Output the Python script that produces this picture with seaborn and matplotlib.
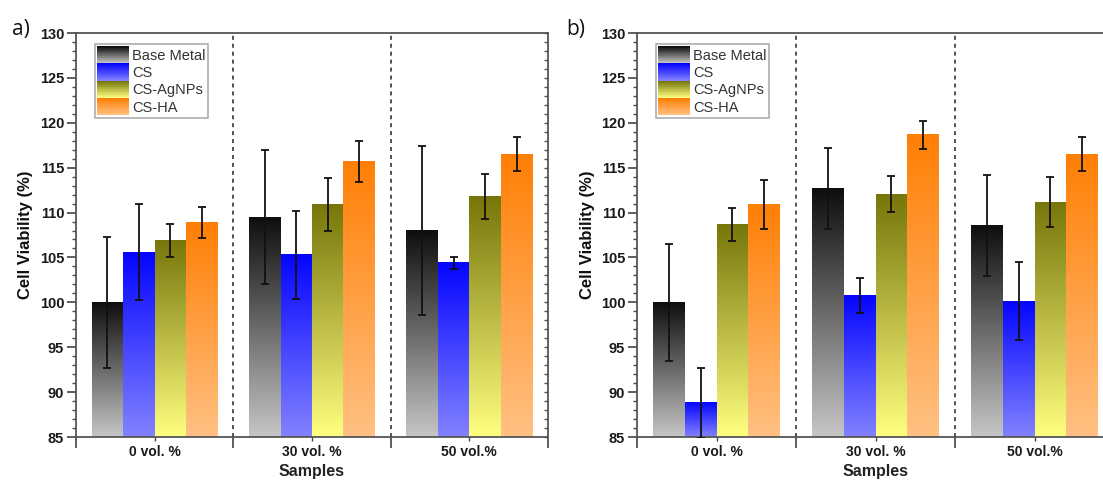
import numpy as np
import pandas as pd
import matplotlib
matplotlib.use("Agg")
import matplotlib.pyplot as plt
import seaborn as sns
from matplotlib.colors import LinearSegmentedColormap
from matplotlib.legend_handler import HandlerBase
from matplotlib.patches import Rectangle
from matplotlib.ticker import MultipleLocator
from matplotlib.font_manager import FontProperties, findfont

# ---------------- data ----------------
samples = ["0 vol. %", "30 vol. %", "50 vol.%"]
series = ["Base Metal", "CS", "CS-AgNPs", "CS-HA"]
yticks = [85, 90, 95, 100, 105, 110, 115, 120, 125, 130]

# panel a
a_base = [100.0, 109.5, 108.0]
a_base_err = [7.3, 7.45, 9.4]
a_cs = [105.6, 105.3, 104.4]
a_cs_err = [5.3, 4.9, 0.7]
a_ag = [106.9, 110.9, 111.75]
a_ag_err = [1.8, 2.95, 2.5]
a_ha = [108.9, 115.65, 116.5]
a_ha_err = [1.7, 2.3, 1.9]

# panel b
b_base = [100.0, 112.7, 108.55]
b_base_err = [6.5, 4.5, 5.65]
b_cs = [88.8, 100.8, 100.1]
b_cs_err = [3.9, 1.95, 4.35]
b_ag = [108.7, 112.05, 111.15]
b_ag_err = [1.85, 2.0, 2.8]
b_ha = [110.9, 118.65, 116.5]
b_ha_err = [2.7, 1.55, 1.9]

# gradient colours (light bottom -> dark top)
grad_colors = {
    "Base Metal": ("#c6c6c6", "#0e0e0e"),
    "CS": ("#8282ff", "#0505ff"),
    "CS-AgNPs": ("#ffff80", "#76760a"),
    "CS-HA": ("#ffc183", "#ff7f05"),
}
cmaps = {k: LinearSegmentedColormap.from_list(k, v) for k, v in grad_colors.items()}


def make_df(vals, errs):
    rows = []
    for s, v, e in zip(series, vals, errs):
        for c, vv, ee in zip(samples, v, e):
            rows.append({"sample": c, "series": s, "value": vv, "err": ee})
    return pd.DataFrame(rows)


df_a = make_df([a_base, a_cs, a_ag, a_ha], [a_base_err, a_cs_err, a_ag_err, a_ha_err])
df_b = make_df([b_base, b_cs, b_ag, b_ha], [b_base_err, b_cs_err, b_ag_err, b_ha_err])

# ---------------- style ----------------
sns.set_style("white")
plt.rcParams["font.family"] = ["Liberation Sans", "DejaVu Sans"]

bold_fp = FontProperties(family="Liberation Sans", weight="bold", size=10.5)
bold_fp_x = FontProperties(family="Liberation Sans", weight="bold", size=10)
leg_fp = FontProperties(family="Liberation Sans", weight="normal", size=10.5)

fig = plt.figure(figsize=(11.03, 4.82), dpi=100)
ax_a = fig.add_axes([76 / 1103, 45 / 482, 472 / 1103, 404 / 482])
ax_b = fig.add_axes([637 / 1103, 45 / 482, 477 / 1103, 404 / 482])


class GradHandler(HandlerBase):
    def __init__(self, cmap):
        super().__init__()
        self.cmap = cmap

    def create_artists(self, legend, orig_handle, xdescent, ydescent, width,
                       height, fontsize, trans):
        n = 24
        arts = []
        for k in range(n):
            col = self.cmap(k / (n - 1))
            r = Rectangle((-xdescent, -ydescent + height * k / n), width,
                          height / n * 1.15, facecolor=col, edgecolor="none",
                          linewidth=0, transform=trans)
            arts.append(r)
        return arts


def draw_panel(ax, df, ylab_x):
    sns.barplot(data=df, x="sample", y="value", hue="series", order=samples,
                hue_order=series, errorbar=None, width=0.8, linewidth=0,
                legend=False, ax=ax)
    ymin, ymax = 85, 130
    lookup = {(r["sample"], r["series"]): (r["value"], r["err"]) for _, r in df.iterrows()}
    for p in list(ax.patches):
        x0 = p.get_x()
        w = p.get_width()
        xc = x0 + w / 2
        ci = int(round(xc))
        hi = int(round((xc - ci + 0.3) / 0.2))
        s = series[hi]
        val, err = lookup[(samples[ci], s)]
        top = p.get_y() + p.get_height()
        grad = np.linspace(1, 0, 256)[:, None]
        ax.imshow(grad, extent=[x0, x0 + w, ymin, top], aspect="auto",
                  cmap=cmaps[s], vmin=0, vmax=1, origin="upper",
                  interpolation="bilinear", zorder=1.5)
        p.set_facecolor("none")
        ax.errorbar(xc, val, yerr=err, fmt="none", ecolor="#111111",
                    elinewidth=1.3, capsize=3.2, capthick=1.3, zorder=4)

    ax.set_xlim(-0.5, 2.5)
    ax.set_ylim(ymin, ymax)
    ax.set_aspect("auto")

    for xb in [0.5, 1.5]:
        ax.axvline(xb, color="#444444", lw=1.3, ls=(0, (2.2, 2.2)), zorder=1)

    # right-side inward ticks on a twin axis
    tw = ax.twinx()
    tw.set_ylim(ymin, ymax)
    tw.set_yticks(yticks, labels=[""] * len(yticks))
    tw.yaxis.set_minor_locator(MultipleLocator(1))
    tw.tick_params(axis="y", which="both", direction="in", length=3,
                   width=1.0, color="#555555", right=True, left=False,
                   labelright=False, labelleft=False)
    for sp in tw.spines.values():
        sp.set_visible(False)

    # y axis
    ax.set_yticks(yticks, labels=[str(v) for v in yticks])
    ax.yaxis.set_minor_locator(MultipleLocator(1))
    ax.tick_params(axis="y", which="major", direction="out", length=6.5,
                   width=1.2, color="#444444", pad=2, left=True, right=False,
                   labelcolor="#1a1a1a")
    ax.tick_params(axis="y", which="minor", direction="out", length=3,
                   width=1.0, color="#444444", left=True, right=False)

    # x axis
    ax.set_xticks([-0.5, 0.5, 1.5, 2.5], labels=["", "", "", ""])
    ax.set_xticks([0, 1, 2], labels=samples, minor=True)
    ax.tick_params(axis="x", which="major", direction="out", length=8,
                   width=1.2, color="#444444", bottom=True)
    ax.tick_params(axis="x", which="minor", direction="out", length=3,
                   width=1.0, color="#444444", pad=3, bottom=True,
                   labelcolor="#1a1a1a")

    for sp in ax.spines.values():
        sp.set_color("#555555")
        sp.set_linewidth(1.3)
        sp.set_visible(True)

    ax.set_ylabel("Cell Viability (%)", fontsize=12, fontweight="bold", color="#111111")
    ax.yaxis.set_label_coords(ylab_x, 0.5)
    ax.set_xlabel("Samples", fontsize=11.5, fontweight="bold", color="#222222")
    ax.xaxis.set_label_coords(0.5, -0.066)

    proxies = [Rectangle((0, 0), 1, 1) for _ in series]
    hmap = {pr: GradHandler(cmaps[s]) for pr, s in zip(proxies, series)}
    leg = tw.legend(proxies, series, handler_map=hmap, loc="upper left",
                    bbox_to_anchor=(19 / ax.get_position().width / 1103, 1 - 11 / 404),
                    borderaxespad=0, frameon=True, fancybox=False,
                    edgecolor="#9a9a9a", prop=leg_fp, labelspacing=0,
                    handlelength=2.2, handleheight=1.45, handletextpad=0.2,
                    borderpad=0.15, labelcolor="#333333")
    leg.get_frame().set_linewidth(1.2)
    leg.set_zorder(6)


draw_panel(ax_a, df_a, -0.091)
draw_panel(ax_b, df_b, -0.088)

fig.text(12 / 1103, 1 - 35 / 482, "a)", fontsize=15, color="#111111",
         family=["Open Sans", "DejaVu Sans"])
fig.text(566 / 1103, 1 - 35 / 482, "b)", fontsize=15, color="#111111",
         family=["Open Sans", "DejaVu Sans"])

fig.canvas.draw()
for ax in (ax_a, ax_b):
    for t in ax.yaxis.get_majorticklabels():
        t.set_fontproperties(bold_fp)
    for t in ax.xaxis.get_minorticklabels():
        t.set_fontproperties(bold_fp_x)

fig.savefig("out.png", dpi=100)
